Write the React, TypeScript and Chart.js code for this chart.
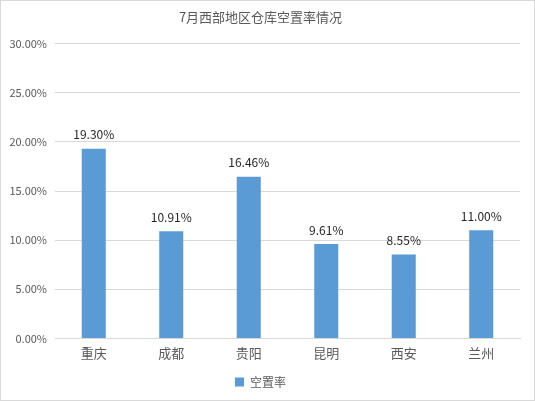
import { useEffect, useRef } from 'react'
import { Chart, registerables } from 'chart.js'

Chart.register(...registerables)

const title = '7月西部地区仓库空置率情况'
const cities = ['重庆', '成都', '贵阳', '昆明', '西安', '兰州']
const vacancyRates = [19.3, 10.91, 16.46, 9.61, 8.55, 11.0]
const seriesName = '空置率'

const FONT = '"Noto Sans CJK SC", "Noto Sans", sans-serif'

// draws the value above each bar
const valueLabels = {
  id: 'valueLabels',
  afterDatasetsDraw(chart: Chart) {
    const ctx = chart.ctx
    const meta = chart.getDatasetMeta(0)
    ctx.save()
    ctx.font = `12px ${FONT}`
    ctx.fillStyle = '#262626'
    ctx.textAlign = 'center'
    ctx.textBaseline = 'bottom'
    meta.data.forEach((bar: any, i: number) => {
      ctx.fillText(vacancyRates[i].toFixed(2) + '%', bar.x, bar.y - 8)
    })
    ctx.restore()
  }
}

export default function App() {
  const chartRef = useRef<HTMLCanvasElement | null>(null)
  const chartInstance = useRef<Chart | null>(null)

  useEffect(() => {
    if (!chartRef.current) return
    if (chartInstance.current) chartInstance.current.destroy()

    chartInstance.current = new Chart(chartRef.current, {
      type: 'bar',
      data: {
        labels: cities,
        datasets: [
          {
            label: seriesName,
            data: vacancyRates,
            backgroundColor: '#5B9BD5',
            barPercentage: 0.31,
            categoryPercentage: 1
          }
        ]
      },
      options: {
        animation: false,
        responsive: false,
        layout: { padding: { left: 0, right: 14, bottom: 2 } },
        scales: {
          y: {
            min: 0,
            max: 30,
            ticks: {
              stepSize: 5,
              color: '#595959',
              font: { family: FONT, size: 11 },
              padding: 8,
              callback: (v: any) => Number(v).toFixed(2) + '%'
            },
            grid: { color: '#d9d9d9', drawTicks: false },
            border: { display: false },
            afterFit: (scale: any) => { scale.width = 54 }
          },
          x: {
            ticks: {
              color: '#595959',
              font: { family: FONT, size: 13 },
              padding: 7
            },
            grid: { display: false, drawTicks: false },
            border: { color: '#d9d9d9' }
          }
        },
        plugins: {
          title: {
            display: true,
            text: title,
            color: '#595959',
            font: { family: FONT, size: 13, weight: 'normal' },
            padding: { top: 8, bottom: 19 }
          },
          legend: {
            position: 'bottom',
            labels: {
              color: '#595959',
              font: { family: FONT, size: 12 },
              boxWidth: 9,
              boxHeight: 9,
              padding: 8
            }
          },
          tooltip: { enabled: false }
        }
      },
      plugins: [valueLabels]
    })

    return () => {
      if (chartInstance.current) {
        chartInstance.current.destroy()
        chartInstance.current = null
      }
    }
  }, [])

  return (
    <div
      style={{
        position: 'absolute',
        left: 0,
        top: 0,
        width: 535,
        height: 401,
        boxSizing: 'border-box',
        border: '1px solid #d9d9d9',
        background: '#fff'
      }}
    >
      <canvas ref={chartRef} width={533} height={399}></canvas>
    </div>
  )
}
